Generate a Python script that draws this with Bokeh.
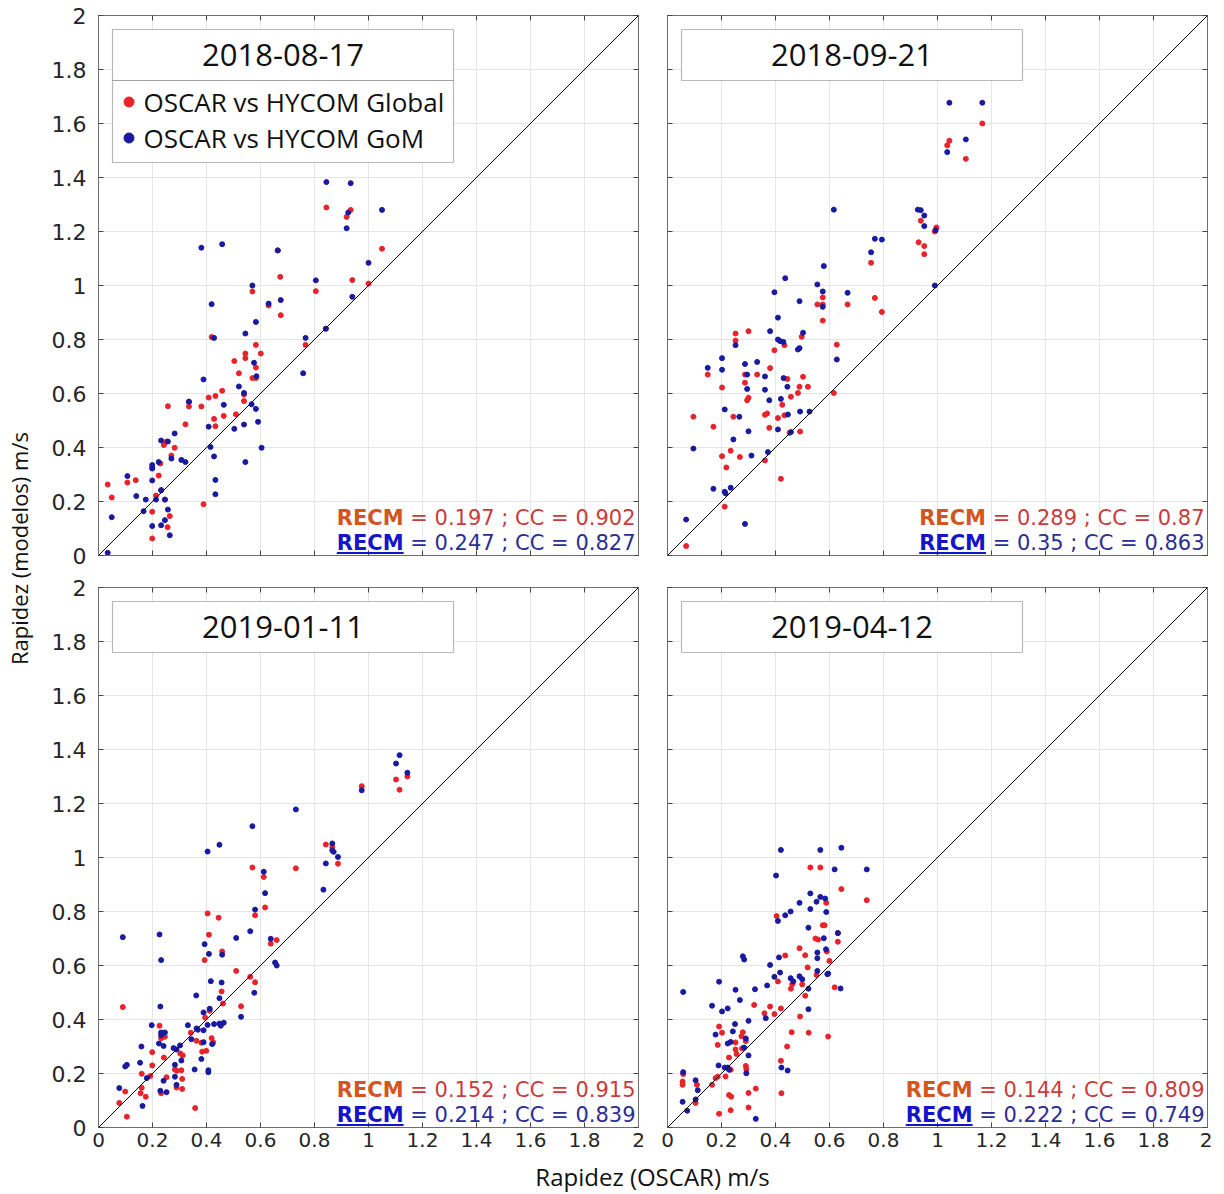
import math
from bokeh.plotting import figure
from bokeh.models import (Range1d, FixedTicker, LinearAxis, Label, BoxAnnotation,
                          Slope, Legend, LegendItem)
from bokeh.layouts import row, column
from bokeh.embed import file_html
from bokeh.resources import INLINE

# ---------------- data ----------------
DATES = ["2018-08-17", "2018-09-21", "2019-01-11", "2019-04-12"]
SERIES_NAMES = ["OSCAR vs HYCOM Global", "OSCAR vs HYCOM GoM"]
TICKS = [0, 0.2, 0.4, 0.6, 0.8, 1, 1.2, 1.4, 1.6, 1.8, 2]
TICK_LABELS = ["0", "0.2", "0.4", "0.6", "0.8", "1", "1.2", "1.4", "1.6", "1.8", "2"]
X_LABEL = "Rapidez (OSCAR) m/s"
Y_LABEL = "Rapidez (modelos) m/s"

RECM_GLOBAL = [0.197, 0.289, 0.152, 0.144]
CC_GLOBAL = [0.902, 0.87, 0.915, 0.809]
RECM_GOM = [0.247, 0.35, 0.214, 0.222]
CC_GOM = [0.827, 0.863, 0.839, 0.749]

# 2018-08-17
A_GLOBAL_X = [0.844, 0.934, 0.919, 0.664, 1.05, 0.673, 0.94, 1.0, 0.57, 0.805, 0.63, 0.675, 0.842, 0.419, 0.767, 0.583,
              0.544, 0.601, 0.544, 0.503, 0.583, 0.52, 0.57, 0.583, 0.539, 0.539, 0.408, 0.433, 0.458, 0.464, 0.335, 0.335,
              0.381, 0.257, 0.509, 0.428, 0.433, 0.322, 0.389, 0.252, 0.242, 0.282, 0.27, 0.199, 0.229, 0.223, 0.232, 0.213,
              0.246, 0.199, 0.264, 0.256, 0.199, 0.138, 0.107, 0.034, 0.049]
A_GLOBAL_Y = [1.289, 1.28, 1.254, 1.13, 1.136, 1.032, 1.02, 1.007, 0.978, 0.979, 0.926, 0.89, 0.84, 0.809, 0.78, 0.78,
              0.748, 0.748, 0.731, 0.72, 0.696, 0.675, 0.657, 0.657, 0.596, 0.572, 0.585, 0.591, 0.61, 0.517, 0.568, 0.552,
              0.552, 0.553, 0.523, 0.506, 0.479, 0.486, 0.19, 0.422, 0.409, 0.399, 0.37, 0.327, 0.341, 0.296, 0.242, 0.222,
              0.207, 0.162, 0.146, 0.105, 0.063, 0.279, 0.27, 0.263, 0.215]
A_GOM_X = [0.844, 0.934, 0.925, 0.919, 1.05, 0.381, 0.458, 0.664, 1.0, 0.805, 0.57, 0.94, 0.419, 0.63, 0.675, 0.583,
           0.842, 0.428, 0.544, 0.767, 0.576, 0.758, 0.585, 0.389, 0.52, 0.539, 0.335, 0.464, 0.567, 0.583, 0.503, 0.591,
           0.539, 0.408, 0.604, 0.415, 0.428, 0.544, 0.433, 0.433, 0.232, 0.257, 0.282, 0.27, 0.307, 0.322, 0.199, 0.199,
           0.223, 0.199, 0.232, 0.213, 0.246, 0.175, 0.167, 0.257, 0.246, 0.199, 0.232, 0.264, 0.107, 0.14, 0.049, 0.034]
A_GOM_Y = [1.383, 1.379, 1.27, 1.212, 1.28, 1.14, 1.153, 1.13, 1.084, 1.019, 1.0, 0.958, 0.931, 0.933, 0.946, 0.865,
           0.84, 0.806, 0.822, 0.806, 0.714, 0.675, 0.664, 0.652, 0.626, 0.602, 0.57, 0.558, 0.56, 0.543, 0.469, 0.495,
           0.485, 0.477, 0.399, 0.402, 0.367, 0.346, 0.28, 0.227, 0.426, 0.422, 0.452, 0.359, 0.354, 0.346, 0.335, 0.322,
           0.346, 0.278, 0.242, 0.207, 0.207, 0.207, 0.164, 0.17, 0.131, 0.109, 0.112, 0.075, 0.294, 0.22, 0.142, 0.01]

# 2018-09-21
B_GLOBAL_X = [1.166, 1.044, 1.036, 1.105, 0.938, 0.996, 0.99, 0.754, 0.93, 0.951, 0.951, 0.575, 0.768, 0.555, 0.575,
              0.667, 0.794, 0.575, 0.252, 0.252, 0.3, 0.497, 0.433, 0.396, 0.627, 0.149, 0.287, 0.332, 0.38, 0.444, 0.502,
              0.202, 0.287, 0.489, 0.52, 0.483, 0.3, 0.295, 0.457, 0.425, 0.616, 0.096, 0.244, 0.361, 0.369, 0.409, 0.433,
              0.17, 0.377, 0.452, 0.491, 0.234, 0.202, 0.268, 0.361, 0.218, 0.42, 0.212, 0.069]
B_GLOBAL_Y = [1.6, 1.536, 1.519, 1.469, 1.24, 1.215, 1.2, 1.084, 1.16, 1.146, 1.116, 0.956, 0.954, 0.93, 0.93,
              0.93, 0.902, 0.87, 0.822, 0.796, 0.831, 0.81, 0.779, 0.76, 0.781, 0.67, 0.67, 0.67, 0.694, 0.654, 0.662,
              0.622, 0.64, 0.625, 0.625, 0.602, 0.584, 0.575, 0.588, 0.558, 0.602, 0.514, 0.514, 0.521, 0.526, 0.509, 0.519,
              0.477, 0.473, 0.454, 0.459, 0.388, 0.368, 0.365, 0.352, 0.326, 0.284, 0.181, 0.035]
B_GOM_X = [1.044, 1.166, 1.036, 1.105, 0.616, 0.927, 0.938, 0.951, 0.951, 0.993, 0.768, 0.794, 0.754, 0.579, 0.436,
           0.555, 0.99, 0.396, 0.575, 0.667, 0.575, 0.489, 0.409, 0.252, 0.38, 0.502, 0.409, 0.417, 0.429, 0.489, 0.483,
           0.627, 0.202, 0.149, 0.202, 0.287, 0.332, 0.295, 0.361, 0.43, 0.295, 0.361, 0.444, 0.377, 0.42, 0.212, 0.266,
           0.446, 0.491, 0.526, 0.409, 0.457, 0.3, 0.244, 0.096, 0.311, 0.372, 0.17, 0.212, 0.215, 0.234, 0.069, 0.287]
B_GOM_Y = [1.677, 1.677, 1.494, 1.541, 1.281, 1.281, 1.279, 1.259, 1.22, 1.205, 1.173, 1.17, 1.123, 1.072, 1.027,
           1.004, 1.0, 0.975, 0.978, 0.973, 0.921, 0.942, 0.881, 0.779, 0.831, 0.825, 0.8, 0.794, 0.791, 0.768, 0.763,
           0.726, 0.731, 0.695, 0.688, 0.709, 0.717, 0.67, 0.663, 0.657, 0.617, 0.614, 0.625, 0.575, 0.58, 0.541, 0.514,
           0.522, 0.533, 0.533, 0.467, 0.457, 0.46, 0.43, 0.396, 0.37, 0.383, 0.247, 0.236, 0.23, 0.251, 0.133, 0.117]

# 2019-01-11
C_GLOBAL_X = [1.144, 1.102, 1.115, 0.975, 0.842, 0.866, 0.887, 0.57, 0.731, 0.612, 0.617, 0.58, 0.404, 0.445, 0.409,
              0.638, 0.66, 0.458, 0.393, 0.51, 0.562, 0.58, 0.456, 0.461, 0.528, 0.09, 0.412, 0.395, 0.226, 0.342, 0.232,
              0.246, 0.363, 0.381, 0.419, 0.425, 0.199, 0.303, 0.312, 0.384, 0.399, 0.242, 0.199, 0.283, 0.29, 0.252,
              0.16, 0.192, 0.307, 0.31, 0.289, 0.31, 0.232, 0.16, 0.156, 0.175, 0.099, 0.077, 0.105, 0.358]
C_GLOBAL_Y = [1.3, 1.289, 1.251, 1.264, 1.048, 1.038, 0.977, 0.963, 0.96, 0.928, 0.815, 0.786, 0.793, 0.777, 0.714,
              0.681, 0.694, 0.652, 0.62, 0.58, 0.558, 0.538, 0.504, 0.459, 0.449, 0.446, 0.432, 0.407, 0.377, 0.351, 0.331,
              0.336, 0.321, 0.314, 0.331, 0.315, 0.279, 0.274, 0.267, 0.281, 0.284, 0.259, 0.23, 0.215, 0.21, 0.186,
              0.199, 0.191, 0.212, 0.18, 0.148, 0.143, 0.127, 0.147, 0.127, 0.114, 0.133, 0.091, 0.04, 0.072]
C_GOM_X = [1.115, 1.102, 1.144, 0.975, 0.731, 0.57, 0.448, 0.404, 0.866, 0.866, 0.871, 0.887, 0.842, 0.612, 0.617,
           0.833, 0.58, 0.09, 0.226, 0.393, 0.562, 0.51, 0.638, 0.409, 0.458, 0.232, 0.654, 0.66, 0.577, 0.416, 0.456,
           0.448, 0.528, 0.362, 0.229, 0.412, 0.389, 0.428, 0.448, 0.464, 0.453, 0.404, 0.197, 0.331, 0.363, 0.368,
           0.389, 0.232, 0.246, 0.232, 0.344, 0.389, 0.421, 0.241, 0.159, 0.278, 0.289, 0.302, 0.224, 0.381, 0.154,
           0.307, 0.283, 0.105, 0.099, 0.179, 0.356, 0.407, 0.407, 0.283, 0.241, 0.289, 0.229, 0.252, 0.077, 0.163]
C_GOM_Y = [1.379, 1.348, 1.314, 1.249, 1.178, 1.116, 1.047, 1.022, 1.052, 1.026, 1.021, 1.002, 0.978, 0.947, 0.868,
           0.881, 0.807, 0.705, 0.715, 0.679, 0.727, 0.702, 0.699, 0.643, 0.64, 0.62, 0.611, 0.6, 0.499, 0.542, 0.537,
           0.479, 0.41, 0.489, 0.448, 0.44, 0.426, 0.383, 0.385, 0.388, 0.377, 0.38, 0.379, 0.379, 0.367, 0.362,
           0.36, 0.352, 0.352, 0.342, 0.327, 0.316, 0.309, 0.302, 0.3, 0.294, 0.289, 0.304, 0.311, 0.254, 0.24,
           0.248, 0.232, 0.232, 0.226, 0.183, 0.215, 0.212, 0.205, 0.188, 0.173, 0.158, 0.136, 0.131, 0.146, 0.08]

# 2019-04-12
D_GLOBAL_X = [0.529, 0.566, 0.644, 0.738, 0.588, 0.404, 0.575, 0.582, 0.548, 0.558, 0.631, 0.631, 0.489, 0.59, 0.51,
              0.6, 0.436, 0.519, 0.552, 0.409, 0.462, 0.499, 0.457, 0.51, 0.619, 0.321, 0.38, 0.396, 0.359, 0.42,
              0.491, 0.191, 0.202, 0.279, 0.274, 0.29, 0.186, 0.252, 0.276, 0.256, 0.252, 0.228, 0.46, 0.523, 0.595,
              0.443, 0.42, 0.234, 0.215, 0.186, 0.178, 0.29, 0.292, 0.058, 0.056, 0.056, 0.109, 0.165, 0.104, 0.3,
              0.327, 0.228, 0.236, 0.422, 0.3, 0.191, 0.234]
D_GLOBAL_Y = [0.963, 0.963, 0.883, 0.842, 0.832, 0.783, 0.749, 0.749, 0.7, 0.696, 0.72, 0.688, 0.664, 0.652, 0.638,
              0.617, 0.637, 0.593, 0.565, 0.541, 0.531, 0.53, 0.514, 0.488, 0.519, 0.454, 0.448, 0.42, 0.423, 0.441,
              0.411, 0.374, 0.351, 0.353, 0.338, 0.32, 0.306, 0.315, 0.293, 0.272, 0.289, 0.259, 0.353, 0.351, 0.337,
              0.3, 0.247, 0.214, 0.189, 0.188, 0.183, 0.228, 0.216, 0.198, 0.17, 0.158, 0.158, 0.158, 0.091, 0.128,
              0.144, 0.12, 0.114, 0.127, 0.074, 0.051, 0.064]
D_GOM_X = [0.42, 0.566, 0.644, 0.619, 0.738, 0.402, 0.529, 0.489, 0.552, 0.566, 0.584, 0.529, 0.588, 0.436, 0.456,
           0.409, 0.522, 0.579, 0.631, 0.587, 0.555, 0.555, 0.413, 0.279, 0.284, 0.38, 0.555, 0.595, 0.417, 0.396,
           0.456, 0.466, 0.489, 0.499, 0.522, 0.641, 0.592, 0.191, 0.058, 0.252, 0.324, 0.369, 0.268, 0.165, 0.202,
           0.223, 0.364, 0.522, 0.3, 0.178, 0.25, 0.242, 0.29, 0.223, 0.234, 0.284, 0.3, 0.422, 0.445, 0.189,
           0.212, 0.228, 0.223, 0.292, 0.058, 0.104, 0.112, 0.104, 0.056, 0.073, 0.327]
D_GOM_Y = [1.028, 1.028, 1.036, 0.956, 0.956, 0.933, 0.867, 0.832, 0.836, 0.854, 0.848, 0.809, 0.798, 0.786, 0.8,
           0.765, 0.74, 0.701, 0.72, 0.66, 0.648, 0.627, 0.63, 0.634, 0.622, 0.602, 0.58, 0.57, 0.574, 0.558,
           0.553, 0.541, 0.56, 0.549, 0.514, 0.515, 0.568, 0.54, 0.502, 0.51, 0.512, 0.526, 0.472, 0.451, 0.43,
           0.441, 0.405, 0.438, 0.395, 0.344, 0.383, 0.356, 0.33, 0.311, 0.317, 0.296, 0.267, 0.222, 0.211, 0.23,
           0.222, 0.214, 0.222, 0.201, 0.205, 0.175, 0.138, 0.104, 0.095, 0.062, 0.032]

PANELS = [
    (A_GLOBAL_X, A_GLOBAL_Y, A_GOM_X, A_GOM_Y),
    (B_GLOBAL_X, B_GLOBAL_Y, B_GOM_X, B_GOM_Y),
    (C_GLOBAL_X, C_GLOBAL_Y, C_GOM_X, C_GOM_Y),
    (D_GLOBAL_X, D_GLOBAL_Y, D_GOM_X, D_GOM_Y),
]

# ---------------- style ----------------
RED_DOT = "#e8232a"
BLUE_DOT = "#1a1aa0"
AXIS_COLOR = "#6e6e6e"
GRID_COLOR = "#e6e6e6"
TICK_TEXT = "#262626"
FRAME = 540
PX = 2.0 / FRAME
STAT_FS = 21
RED_RECM = "#d2561e"
RED_TXT = "#c83c3c"
BLUE_RECM = "#1414c8"
BLUE_TXT = "#2d2d96"
NBSP = "\u00a0"

DV_W = {" ": 0.318, NBSP: 0.318, "=": 0.838, ".": 0.318, ";": 0.337, "C": 0.698}
RECM_BOLD_EM = 3.182


def text_w(s, fs):
    return sum(DV_W.get(ch, 0.636) for ch in s) * fs


def hide_labels(ax):
    ax.major_label_text_font_size = "1px"
    ax.major_label_text_color = None
    ax.major_label_standoff = 0


def make_panel(i, show_x, show_y, legend, borders):
    gx, gy, bx, by = PANELS[i]
    bl, br, bt, bb = borders
    p = figure(frame_width=FRAME, frame_height=FRAME, x_range=Range1d(0, 2), y_range=Range1d(0, 2),
               output_backend="svg", toolbar_location=None, tools="",
               min_border_left=bl, min_border_right=br, min_border_top=bt, min_border_bottom=bb,
               background_fill_color="white", border_fill_color="white")
    p.outline_line_color = AXIS_COLOR
    overrides = {t: l for t, l in zip(TICKS, TICK_LABELS)}
    for ax in (p.xaxis[0], p.yaxis[0]):
        ax.ticker = FixedTicker(ticks=TICKS)
        ax.major_label_overrides = overrides
        ax.major_tick_in = 5
        ax.major_tick_out = 0
        ax.minor_tick_in = 0
        ax.minor_tick_out = 0
        ax.axis_line_color = AXIS_COLOR
        ax.major_tick_line_color = "#444444"
        ax.major_label_text_font = "DejaVu Sans"
        ax.major_label_text_color = TICK_TEXT
    p.xaxis.major_label_text_font_size = "20px"
    p.yaxis.major_label_text_font_size = "22px"
    p.xaxis.major_label_standoff = 5
    p.yaxis.major_label_standoff = 12
    if not show_x:
        hide_labels(p.xaxis[0])
    if not show_y:
        hide_labels(p.yaxis[0])
    for loc in ("above", "right"):
        ax = LinearAxis(ticker=FixedTicker(ticks=TICKS), major_tick_in=5, major_tick_out=0,
                        minor_tick_in=0, minor_tick_out=0, axis_line_color=AXIS_COLOR,
                        major_tick_line_color="#444444")
        hide_labels(ax)
        p.add_layout(ax, loc)
    p.xgrid.ticker = FixedTicker(ticks=TICKS)
    p.ygrid.ticker = FixedTicker(ticks=TICKS)
    p.grid.grid_line_color = GRID_COLOR

    n1 = min(len(gx), len(gy))
    n2 = min(len(bx), len(by))
    r_g = p.scatter(x=gx[:n1], y=gy[:n1], size=5, color=RED_DOT)
    r_b = p.scatter(x=bx[:n2], y=by[:n2], size=5, color=BLUE_DOT)

    p.add_layout(Slope(gradient=1, y_intercept=0, line_color="black", line_width=1))

    # title box (and legend box)
    left, right = 14 * PX, 355 * PX
    p.add_layout(BoxAnnotation(left=left, right=right, top=2 - 14 * PX, bottom=2 - 65 * PX,
                               fill_color="white", fill_alpha=1, line_color="#1a1a1a", line_width=1.2))
    if legend:
        p.add_layout(BoxAnnotation(left=left, right=right, top=2 - 65 * PX, bottom=2 - 147 * PX,
                                   fill_color="white", fill_alpha=1, line_color="#1a1a1a", line_width=1.2))
    p.add_layout(Label(x=(14 + 355) / 2 * PX, y=2 - 39 * PX, text=DATES[i], text_align="center",
                       text_baseline="middle", text_font="Open Sans", text_font_size="31px",
                       text_color="#111111"))
    if legend:
        lg = Legend(items=[LegendItem(label=SERIES_NAMES[0], renderers=[r_g]),
                           LegendItem(label=SERIES_NAMES[1], renderers=[r_b])],
                    location=(17.5, 399.5), orientation="vertical", glyph_width=25, glyph_height=35,
                    label_height=35, label_standoff=3, spacing=0, padding=0, margin=0,
                    border_line_color=None, background_fill_alpha=0,
                    label_text_font="Open Sans", label_text_font_size="26px", label_text_color="#111111")
        p.add_layout(lg)

    # statistics text (centres 38 px and 12.5 px above the bottom of the frame)
    lines = [
        (f"{NBSP}={NBSP}{RECM_GLOBAL[i]}{NBSP};{NBSP}CC{NBSP}={NBSP}{CC_GLOBAL[i]}", 38, RED_RECM, RED_TXT, False),
        (f"{NBSP}={NBSP}{RECM_GOM[i]}{NBSP};{NBSP}CC{NBSP}={NBSP}{CC_GOM[i]}", 12.5, BLUE_RECM, BLUE_TXT, True),
    ]
    for rest, mid_px, c_recm, c_txt, underline in lines:
        w = text_w(rest, STAT_FS)
        wr = RECM_BOLD_EM * STAT_FS
        p.add_layout(Label(x=2, y=mid_px * PX, x_offset=-3, text=rest, text_align="right",
                           text_baseline="middle", text_font="DejaVu Sans",
                           text_font_size=f"{STAT_FS}px", text_color=c_txt))
        p.add_layout(Label(x=2, y=mid_px * PX, x_offset=-3 - w, text="RECM", text_align="right",
                           text_baseline="middle", text_font="DejaVu Sans", text_font_style="bold",
                           text_font_size=f"{STAT_FS}px", text_color=c_recm))
        if underline:
            p.add_layout(BoxAnnotation(left=2 - (3 + w + wr) * PX, right=2 - (3 + w) * PX,
                                       bottom=1.5 * PX, top=3.5 * PX, fill_color=c_recm,
                                       fill_alpha=1, line_color=None))
    return p


tl = make_panel(0, False, True, True, (60, 10, 15, 16))
tr = make_panel(1, False, False, False, (19, 5, 15, 16))
bl = make_panel(2, True, True, False, (60, 10, 16, 32))
br = make_panel(3, True, False, False, (19, 5, 16, 32))

GRID_H = (15 + 540 + 16) + (16 + 540 + 32)
YLAB_W = 38
ylab = figure(width=YLAB_W, height=GRID_H, x_range=Range1d(0, YLAB_W), y_range=Range1d(0, GRID_H),
              x_axis_location=None, y_axis_location=None, toolbar_location=None, tools="",
              min_border=0, output_backend="svg", outline_line_color=None)
ylab.grid.visible = False
ylab.add_layout(Label(x=18, y=GRID_H - 548, text=Y_LABEL, angle=math.pi / 2, text_align="center",
                      text_baseline="middle", text_font="Open Sans", text_font_size="22px",
                      text_color="#111111"))

TOTAL_W = YLAB_W + 610 + 564
XLAB_H = 35
xlab = figure(width=TOTAL_W, height=XLAB_H, x_range=Range1d(0, TOTAL_W), y_range=Range1d(0, XLAB_H),
              x_axis_location=None, y_axis_location=None, toolbar_location=None, tools="",
              min_border=0, output_backend="svg", outline_line_color=None)
xlab.grid.visible = False
xlab.add_layout(Label(x=652, y=GRID_H + XLAB_H - 1176, text=X_LABEL, text_align="center",
                      text_baseline="middle", text_font="Open Sans", text_font_size="24px",
                      text_color="#111111"))

layout = column(row(ylab, column(row(tl, tr), row(bl, br))), xlab)

open("out.html", "w").write(file_html(layout, INLINE))
